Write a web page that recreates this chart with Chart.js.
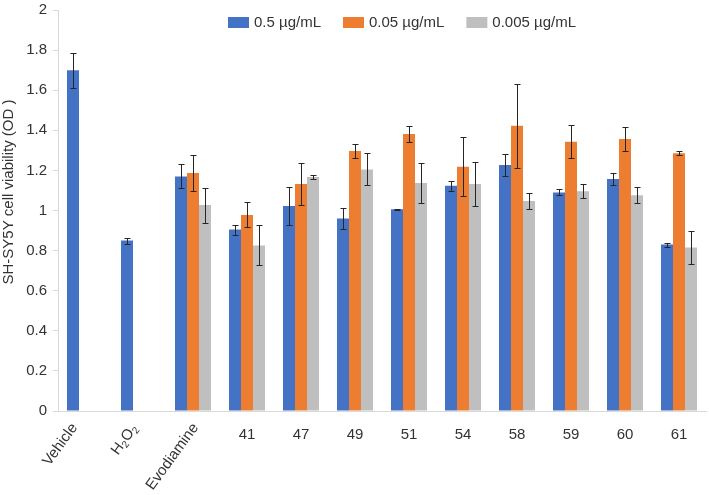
<!DOCTYPE html>
<html>
<head>
<meta charset="utf-8">
<script src="https://cdn.jsdelivr.net/npm/chart.js@4.4.1/dist/chart.umd.min.js"></script>
<style>
  html, body { margin: 0; padding: 0; background: #fff; }
  #wrap { width: 709px; height: 495px; position: relative; }
</style>
</head>
<body>
<div id="wrap"><canvas id="viabilidadChart"></canvas></div>
<script>
// Datos
const categorias = ['Vehicle', 'H2O2', 'Evodiamine', '41', '47', '49', '51', '54', '58', '59', '60', '61'];
const etiquetasSerie = ['0.5 \u00b5g/mL', '0.05 \u00b5g/mL', '0.005 \u00b5g/mL'];

const valores05 = [1.70, 0.85, 1.17, 0.905, 1.022, 0.96, 1.006, 1.123, 1.227, 1.09, 1.157, 0.83];
const error05 = [0.087, 0.015, 0.06, 0.025, 0.094, 0.053, 0.003, 0.025, 0.057, 0.015, 0.032, 0.01];

const valores005 = [null, null, 1.187, 0.978, 1.132, 1.297, 1.382, 1.218, 1.423, 1.343, 1.357, 1.285];
const error005 = [null, null, 0.09, 0.062, 0.106, 0.033, 0.04, 0.148, 0.21, 0.082, 0.06, 0.01];

const valores0005 = [null, null, 1.027, 0.826, 1.167, 1.205, 1.137, 1.132, 1.047, 1.096, 1.076, 0.815];
const error0005 = [null, null, 0.087, 0.1, 0.011, 0.08, 0.1, 0.108, 0.042, 0.034, 0.04, 0.083];

const ticksY = [0, 0.2, 0.4, 0.6, 0.8, 1, 1.2, 1.4, 1.6, 1.8, 2];
const tituloY = 'SH-SY5Y cell viability (OD )';

const fuente = '"Liberation Sans", Arial, sans-serif';
const colorTexto = '#333333';

// Barras de error (dibujadas con las escalas del grafico)
const barrasError = {
    id: 'barrasError',
    afterDatasetsDraw(chart) {
        const ctx = chart.ctx;
        const y = chart.scales.y;
        ctx.save();
        ctx.strokeStyle = '#262626';
        ctx.lineWidth = 1;
        chart.data.datasets.forEach((ds, d) => {
            const meta = chart.getDatasetMeta(d);
            ds.errores.forEach((e, i) => {
                if (e == null || ds.data[i] == null) return;
                const x = Math.round(meta.data[i].x) + 0.5;
                const arriba = Math.round(y.getPixelForValue(ds.data[i] + e)) + 0.5;
                const abajo = Math.round(y.getPixelForValue(ds.data[i] - e)) + 0.5;
                ctx.beginPath();
                ctx.moveTo(x, arriba); ctx.lineTo(x, abajo);
                ctx.moveTo(x - 3, arriba); ctx.lineTo(x + 3, arriba);
                ctx.moveTo(x - 3, abajo); ctx.lineTo(x + 3, abajo);
                ctx.stroke();
            });
        });
        ctx.restore();
    }
};

// Leyenda, titulo del eje Y y etiquetas giradas
const textosExtra = {
    id: 'textosExtra',
    afterDraw(chart) {
        const ctx = chart.ctx;
        const xs = chart.scales.x;
        const area = chart.chartArea;
        ctx.save();
        ctx.fillStyle = colorTexto;
        ctx.font = '15px ' + fuente;

        // leyenda
        let lx = 228;
        ctx.textAlign = 'left';
        ctx.textBaseline = 'middle';
        chart.data.datasets.forEach(ds => {
            ctx.fillStyle = ds.backgroundColor;
            ctx.fillRect(lx, 17, 21, 11);
            ctx.fillStyle = colorTexto;
            ctx.fillText(ds.label, lx + 26, 23);
            lx += 26 + ctx.measureText(ds.label).width + 22;
        });

        // titulo del eje Y
        ctx.save();
        ctx.translate(9, 192);
        ctx.rotate(-Math.PI / 2);
        ctx.textAlign = 'center';
        ctx.fillText(tituloY, 0, 0);
        ctx.restore();

        // etiquetas giradas de las tres primeras categorias
        const ajuste = [[-10.5, 14], [-4.5, 15], [2.5, 14]];
        for (let i = 0; i < 3; i++) {
            const x = xs.getPixelForTick(i) + ajuste[i][0];
            ctx.save();
            ctx.translate(x, area.bottom + ajuste[i][1]);
            ctx.rotate(-54 * Math.PI / 180);
            if (categorias[i] === 'H2O2') {
                const partes = [['H', 15, 0], ['2', 10, 4], ['O', 15, 0], ['2', 10, 4]];
                let total = 0;
                partes.forEach(p => { ctx.font = p[1] + 'px ' + fuente; total += ctx.measureText(p[0]).width; });
                let pos = -total;
                ctx.textAlign = 'left';
                partes.forEach(p => {
                    ctx.font = p[1] + 'px ' + fuente;
                    ctx.fillText(p[0], pos, p[2]);
                    pos += ctx.measureText(p[0]).width;
                });
            } else {
                ctx.font = '15px ' + fuente;
                ctx.textAlign = 'right';
                ctx.fillText(categorias[i], 0, 0);
            }
            ctx.restore();
        }
        ctx.restore();
    }
};

const ctx = document.getElementById('viabilidadChart').getContext('2d');

window.myChart = new Chart(ctx, {
    type: 'bar',
    data: {
        labels: categorias,
        datasets: [
            { label: etiquetasSerie[0], data: valores05, errores: error05, backgroundColor: '#4472C4' },
            { label: etiquetasSerie[1], data: valores005, errores: error005, backgroundColor: '#ED7D31' },
            { label: etiquetasSerie[2], data: valores0005, errores: error0005, backgroundColor: '#BFBFBF' }
        ]
    },
    options: {
        responsive: true,
        maintainAspectRatio: false,
        animation: false,
        layout: { padding: { top: 10, right: 3, left: 0, bottom: 0 } },
        datasets: { bar: { barPercentage: 1, categoryPercentage: 0.667 } },
        plugins: {
            legend: { display: false },
            tooltip: { enabled: false }
        },
        scales: {
            x: {
                grid: { display: false },
                border: { display: true, color: '#d9d9d9' },
                ticks: {
                    maxRotation: 0,
                    minRotation: 0,
                    autoSkip: false,
                    padding: 7,
                    color: colorTexto,
                    font: { family: fuente, size: 15 },
                    callback: (v, i) => (i < 3 ? '' : categorias[i])
                },
                afterFit: s => { s.height = 84; }
            },
            y: {
                min: 0,
                max: 2,
                afterBuildTicks: s => { s.ticks = ticksY.map(v => ({ value: v })); },
                grid: { drawOnChartArea: false, drawTicks: true, tickLength: 5, color: '#d9d9d9' },
                border: { display: true, color: '#d9d9d9' },
                ticks: {
                    padding: 6,
                    color: colorTexto,
                    font: { family: fuente, size: 15, lineHeight: 0.5 },
                    callback: v => String(+v.toFixed(1))
                },
                afterFit: s => { s.width = 58; }
            }
        }
    },
    plugins: [barrasError, textosExtra]
});
</script>
</body>
</html>
